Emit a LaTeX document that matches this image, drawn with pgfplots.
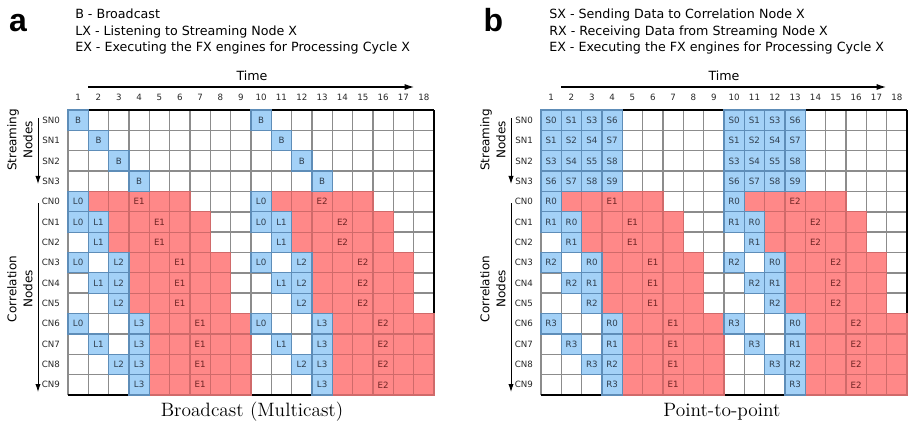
\documentclass[border=0pt]{standalone}
\usepackage{fontspec}
\setsansfont{DejaVu Sans}
\newfontfamily\helv{Liberation Sans}
\usepackage{pgfplots}
\usepackage{pgfplotstable}
\pgfplotsset{compat=1.18}
\usetikzlibrary{arrows.meta}

\definecolor{cellblue}{HTML}{A3D1F7}
\definecolor{cellblueedge}{HTML}{5E8DB8}
\definecolor{cellred}{HTML}{FF8888}
\definecolor{cellrededge}{HTML}{D06A6A}
\definecolor{gridgray}{HTML}{8C8C8C}
\definecolor{bluetext}{HTML}{2F3E4E}
\definecolor{redtext}{HTML}{6E2424}

\pgfdeclareplotmark{cell}{%
  \pgfpathrectangle{\pgfqpoint{-7.625pt}{-7.634pt}}{\pgfqpoint{15.25pt}{15.268pt}}%
  \pgfusepathqfillstroke}

\newcommand\cellfont{\sffamily\fontsize{6.5}{7.5}\selectfont}
\newcommand\legfont{\sffamily\fontsize{9.5}{11}\selectfont}

% red (FX engine) cells, identical in both panels
\pgfplotstableread[row sep=\\]{
x y\\
2 9\\ 3 9\\ 4 9\\ 5 9\\ 6 9\\ 11 9\\ 12 9\\ 13 9\\ 14 9\\ 15 9\\
3 8\\ 4 8\\ 5 8\\ 6 8\\ 7 8\\ 12 8\\ 13 8\\ 14 8\\ 15 8\\ 16 8\\
3 7\\ 4 7\\ 5 7\\ 6 7\\ 7 7\\ 12 7\\ 13 7\\ 14 7\\ 15 7\\ 16 7\\
4 6\\ 5 6\\ 6 6\\ 7 6\\ 8 6\\ 13 6\\ 14 6\\ 15 6\\ 16 6\\ 17 6\\
4 5\\ 5 5\\ 6 5\\ 7 5\\ 8 5\\ 13 5\\ 14 5\\ 15 5\\ 16 5\\ 17 5\\
4 4\\ 5 4\\ 6 4\\ 7 4\\ 8 4\\ 13 4\\ 14 4\\ 15 4\\ 16 4\\ 17 4\\
5 3\\ 6 3\\ 7 3\\ 8 3\\ 9 3\\ 14 3\\ 15 3\\ 16 3\\ 17 3\\ 18 3\\
5 2\\ 6 2\\ 7 2\\ 8 2\\ 9 2\\ 14 2\\ 15 2\\ 16 2\\ 17 2\\ 18 2\\
5 1\\ 6 1\\ 7 1\\ 8 1\\ 9 1\\ 14 1\\ 15 1\\ 16 1\\ 17 1\\ 18 1\\
5 0\\ 6 0\\ 7 0\\ 8 0\\ 9 0\\ 14 0\\ 15 0\\ 16 0\\ 17 0\\ 18 0\\
}\redcells

\pgfplotstableread[row sep=\\]{
x y label\\
4 9 E1\\ 13 9 E2\\ 5 8 E1\\ 14 8 E2\\ 5 7 E1\\ 14 7 E2\\
6 6 E1\\ 15 6 E2\\ 6 5 E1\\ 15 5 E2\\ 6 4 E1\\ 15 4 E2\\
7 3 E1\\ 16 3 E2\\ 7 2 E1\\ 16 2 E2\\ 7 1 E1\\ 16 1 E2\\ 7 0 E1\\ 16 0 E2\\
}\elabels

% panel a: broadcast
\pgfplotstableread[row sep=\\]{
x y label\\
1 13 B\\ 2 12 B\\ 3 11 B\\ 4 10 B\\ 10 13 B\\ 11 12 B\\ 12 11 B\\ 13 10 B\\
1 9 L0\\ 10 9 L0\\
1 8 L0\\ 2 8 L1\\ 10 8 L0\\ 11 8 L1\\
2 7 L1\\ 11 7 L1\\
1 6 L0\\ 3 6 L2\\ 10 6 L0\\ 12 6 L2\\
2 5 L1\\ 3 5 L2\\ 11 5 L1\\ 12 5 L2\\
3 4 L2\\ 12 4 L2\\
1 3 L0\\ 4 3 L3\\ 10 3 L0\\ 13 3 L3\\
2 2 L1\\ 4 2 L3\\ 11 2 L1\\ 13 2 L3\\
3 1 L2\\ 4 1 L3\\ 12 1 L2\\ 13 1 L3\\
4 0 L3\\ 13 0 L3\\
}\blueA

% panel b: point-to-point
\pgfplotstableread[row sep=\\]{
x y label\\
1 13 S0\\ 2 13 S1\\ 3 13 S3\\ 4 13 S6\\ 10 13 S0\\ 11 13 S1\\ 12 13 S3\\ 13 13 S6\\
1 12 S1\\ 2 12 S2\\ 3 12 S4\\ 4 12 S7\\ 10 12 S1\\ 11 12 S2\\ 12 12 S4\\ 13 12 S7\\
1 11 S3\\ 2 11 S4\\ 3 11 S5\\ 4 11 S8\\ 10 11 S3\\ 11 11 S4\\ 12 11 S5\\ 13 11 S8\\
1 10 S6\\ 2 10 S7\\ 3 10 S8\\ 4 10 S9\\ 10 10 S6\\ 11 10 S7\\ 12 10 S8\\ 13 10 S9\\
1 9 R0\\ 10 9 R0\\
1 8 R1\\ 2 8 R0\\ 10 8 R1\\ 11 8 R0\\
2 7 R1\\ 11 7 R1\\
1 6 R2\\ 3 6 R0\\ 10 6 R2\\ 12 6 R0\\
2 5 R2\\ 3 5 R1\\ 11 5 R2\\ 12 5 R1\\
3 4 R2\\ 12 4 R2\\
1 3 R3\\ 4 3 R0\\ 10 3 R3\\ 13 3 R0\\
2 2 R3\\ 4 2 R1\\ 11 2 R3\\ 13 2 R1\\
3 1 R3\\ 4 1 R2\\ 12 1 R3\\ 13 1 R2\\
4 0 R3\\ 13 0 R3\\
}\blueB

\pgfplotsset{
  cellgrid/.style={
    anchor=south west, scale only axis,
    width=274.5pt, height=213.75pt,
    xmin=0.5, xmax=18.5, ymin=-0.5, ymax=13.5,
    xtick={1,...,18}, ytick={0,...,13},
    yticklabels={CN9,CN8,CN7,CN6,CN5,CN4,CN3,CN2,CN1,CN0,SN3,SN2,SN1,SN0},
    minor xtick={1.5,2.5,...,17.5}, minor ytick={0.5,1.5,...,12.5},
    xminorgrids, yminorgrids,
    minor grid style={gridgray, line width=1.1pt},
    major tick length=0pt, minor tick length=0pt,
    xticklabel pos=upper,
    axis line style={draw=none},
    tick label style={font=\sffamily\fontsize{6.5}{7.5}\selectfont, text=black!85},
    xticklabel style={yshift=3.5pt},
    yticklabel style={xshift=-2.5pt},
    /pgf/number format/assume math mode=true,
    clip=false,
  },
  redcell/.style={only marks, mark=cell,
    mark options={fill=cellred, draw=cellrededge, line width=0.9pt}},
  bluecell/.style={only marks, mark=cell,
    mark options={fill=cellblue, draw=cellblueedge, line width=0.9pt},
    point meta=explicit symbolic, nodes near coords, nodes near coords align=center,
    nodes near coords style={font=\cellfont, text=bluetext, inner sep=0pt}},
  elabel/.style={only marks, mark=none,
    point meta=explicit symbolic, nodes near coords, nodes near coords align=center,
    nodes near coords style={font=\cellfont, text=redtext, inner sep=0pt}},
  frame/.code={},
}

\begin{document}
\begin{tikzpicture}
\path[use as bounding box] (0pt,0pt) rectangle (681pt,-321pt);

% ---------------- panel a ----------------
\begin{axis}[cellgrid, at={(51pt,-296.25pt)}]
\addplot[redcell] table {\redcells};
\addplot[bluecell] table[meta=label] {\blueA};
\addplot[elabel] table[meta=label] {\elabels};
\draw[gridgray, line width=1.1pt] (rel axis cs:0,0) -- (rel axis cs:0,1);
\draw[black, line width=1.0pt] (rel axis cs:1,0) -- (rel axis cs:1,1);
\draw[black, line width=1.4pt] (rel axis cs:0,1) -- (rel axis cs:1,1);
\draw[black, line width=1.4pt] (rel axis cs:0,0) -- (rel axis cs:1,0);
\end{axis}

% ---------------- panel b ----------------
\begin{axis}[cellgrid, at={(405.75pt,-296.25pt)}]
\addplot[redcell] table {\redcells};
\addplot[bluecell] table[meta=label] {\blueB};
\addplot[elabel] table[meta=label] {\elabels};
\draw[gridgray, line width=1.1pt] (rel axis cs:0,0) -- (rel axis cs:0,1);
\draw[black, line width=1.0pt] (rel axis cs:1,0) -- (rel axis cs:1,1);
\draw[black, line width=1.4pt] (rel axis cs:0,1) -- (rel axis cs:1,1);
\draw[black, line width=1.4pt] (rel axis cs:0,0) -- (rel axis cs:1,0);
\end{axis}

% panel letters
\node[anchor=base, font=\helv\bfseries\fontsize{24}{26}\selectfont] at (13.5pt,-24pt) {a};
\node[anchor=base, font=\helv\bfseries\fontsize{24}{26}\selectfont] at (370pt,-24pt) {b};

% legends
\node[anchor=base west, font=\legfont, inner sep=0pt] at (56.25pt,-13.9pt) {B - Broadcast};
\node[anchor=base west, font=\legfont, inner sep=0pt] at (56.25pt,-26.6pt) {LX - Listening to Streaming Node X};
\node[anchor=base west, font=\legfont, inner sep=0pt] at (56.25pt,-38.6pt) {EX - Executing the FX engines for Processing Cycle X};
\node[anchor=base west, font=\legfont, inner sep=0pt] at (411.75pt,-13.9pt) {SX - Sending Data to Correlation Node X};
\node[anchor=base west, font=\legfont, inner sep=0pt] at (411.75pt,-26.6pt) {RX - Receiving Data from Streaming Node X};
\node[anchor=base west, font=\legfont, inner sep=0pt] at (411.75pt,-38.6pt) {EX - Executing the FX engines for Processing Cycle X};

% time axes
\node[font=\legfont] at (189pt,-57pt) {Time};
\draw[-{Latex[length=7pt,width=4.5pt]}, line width=0.8pt] (66pt,-65.25pt) -- (310.5pt,-65.25pt);
\node[font=\legfont] at (543pt,-57pt) {Time};
\draw[-{Latex[length=7pt,width=4.5pt]}, line width=0.8pt] (420.75pt,-65.25pt) -- (664.5pt,-65.25pt);

% side labels panel a
\node[rotate=90, align=center, font=\sffamily\fontsize{9}{12}\selectfont] at (15pt,-105pt) {Streaming\\Nodes};
\draw[-{Latex[length=6pt,width=4pt]}, line width=0.7pt] (28.5pt,-88.5pt) -- (28.5pt,-138pt);
\node[rotate=90, align=center, font=\sffamily\fontsize{9}{12}\selectfont] at (15pt,-216.75pt) {Correlation\\Nodes};
\draw[-{Latex[length=6pt,width=4pt]}, line width=0.7pt] (28.5pt,-152.25pt) -- (28.5pt,-294pt);

% side labels panel b
\node[rotate=90, align=center, font=\sffamily\fontsize{9}{12}\selectfont] at (369.75pt,-105pt) {Streaming\\Nodes};
\draw[-{Latex[length=6pt,width=4pt]}, line width=0.7pt] (383.25pt,-88.5pt) -- (383.25pt,-138pt);
\node[rotate=90, align=center, font=\sffamily\fontsize{9}{12}\selectfont] at (369.75pt,-216.75pt) {Correlation\\Nodes};
\draw[-{Latex[length=6pt,width=4pt]}, line width=0.7pt] (383.25pt,-152.25pt) -- (383.25pt,-294pt);

% titles
\node[font=\rmfamily\fontsize{14.5}{16}\selectfont] at (189pt,-309pt) {Broadcast (Multicast)};
\node[font=\rmfamily\fontsize{14.5}{16}\selectfont] at (541.5pt,-309pt) {Point-to-point};
\end{tikzpicture}
\end{document}
